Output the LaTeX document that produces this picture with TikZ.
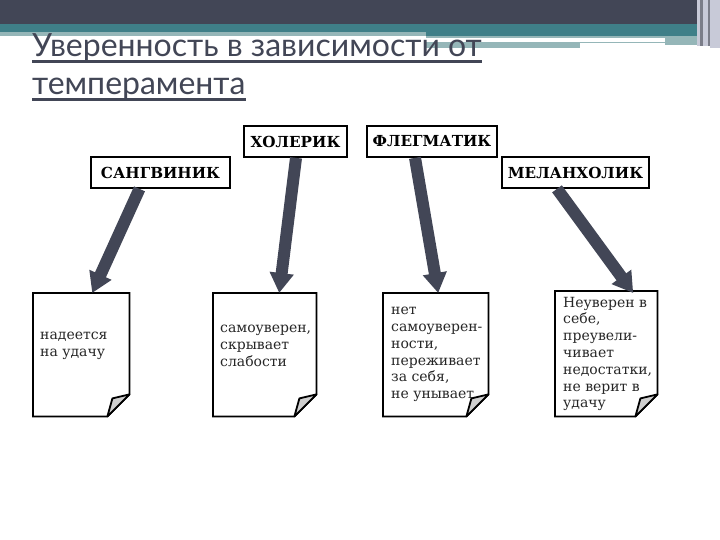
\documentclass[tikz,border=0pt]{standalone}
\usepackage{fontspec}
\setmainfont{DejaVu Serif}
\newfontfamily\titlefont{Lato}
\usetikzlibrary{arrows.meta}
\definecolor{hdark}{HTML}{424656}
\definecolor{hteal}{HTML}{3F7F88}
\definecolor{hlight}{HTML}{95B6B8}
\definecolor{hpale}{HTML}{C8CAD8}
\definecolor{foldgray}{HTML}{CFCFCF}
\tikzset{
  typebox/.style={draw=black,line width=1.7pt,fill=white,inner sep=0pt,font=\fontsize{15.2}{17}\selectfont\bfseries},
  doctext/.style={anchor=west,align=left,inner sep=0pt,font=\fontsize{14}{16.8}\selectfont,text=black!85},
  docbody/.style={draw=none,inner sep=0pt},
  bigarrow/.style={draw=hdark,line width=12pt,-{Triangle[length=20pt,width=23pt]}},
  titletext/.style={anchor=base west,inner sep=0pt,text=hdark,font=\titlefont\fontsize{32}{38}\selectfont},
  titlerule/.style={draw=hdark,line width=2.2pt},
}
\newcommand{\docshape}[5]{% name, x-left, y-top, width, height
  \node[docbody,minimum width=#4pt,minimum height=#5pt,anchor=north west] (#1) at (#2,#3) {};
  \draw[line width=1.8pt,fill=white,line join=miter] (#1.north west) -- (#1.north east) -- ([yshift=22pt]#1.south east) -- ([xshift=-22pt]#1.south east) -- (#1.south west) -- cycle;
}
\newcommand{\docfold}[1]{%
  \draw[line width=1.8pt,fill=foldgray,line join=round] ([yshift=22pt]#1.south east) -- ([xshift=-17pt,yshift=18pt]#1.south east) -- ([xshift=-22pt]#1.south east) -- cycle;
}
\begin{document}
\begin{tikzpicture}[x=1pt,y=-1pt]
\useasboundingbox (0,0) rectangle (720,540);
\fill[white] (0,0) rectangle (720,540);
% header bands
\fill[hdark] (0,0) rectangle (720,24);
\fill[hteal] (0,24) rectangle (720,36);
\fill[hlight] (0,32) rectangle (426,36);
\fill[hlight] (426,36) rectangle (720,38);
\fill[hlight] (426,42) rectangle (580,48);
\fill[hlight] (580,42) rectangle (665,43.5);
\fill[hlight] (665,36) rectangle (700,45);
\fill[hpale] (697,0) rectangle (700,46);
\fill[hdark!70] (700,0) rectangle (703,46);
\fill[hpale] (703,0) rectangle (708,46);
\fill[hdark!70] (708,0) rectangle (710,46);
\fill[hpale] (710,0) rectangle (720,48);
% title
\node[titletext] (t1) at (32,57) {Уверенность в зависимости от};
\node[titletext] (t2) at (32,95) {темперамента};
\draw[titlerule] ([yshift=-4.5pt]t1.base west) -- ([yshift=-4.5pt]t1.base east);
\draw[titlerule] ([yshift=-4.5pt]t2.base west) -- ([yshift=-4.5pt]t2.base east);
% type boxes
\node[typebox,minimum width=103pt,minimum height=31pt] (chol) at (295.5,141.5) {ХОЛЕРИК};
\node[typebox,minimum width=130pt,minimum height=31pt] (phleg) at (432,141.5) {ФЛЕГМАТИК};
\node[typebox,minimum width=139pt,minimum height=31pt] (sang) at (160.5,172.5) {САНГВИНИК\hspace{6pt}};
\node[typebox,minimum width=147pt,minimum height=31pt] (mel) at (575.5,172.5) {МЕЛАНХОЛИК};
% documents
\docshape{d1}{33}{293}{96}{123}
\docshape{d2}{213}{293}{103}{123}
\docshape{d3}{383}{293}{105}{123}
\docshape{d4}{555}{291}{102}{125}
% arrows
\draw[bigarrow] ([xshift=-21pt]sang.south) -- ([xshift=11pt]d1.north);
\draw[bigarrow] ([xshift=0.5pt]chol.south) -- ([xshift=14.5pt]d2.north);
\draw[bigarrow] ([xshift=-17pt]phleg.south) -- ([xshift=2.5pt]d3.north);
\draw[bigarrow] ([xshift=-18.5pt]mel.south) -- ([xshift=27pt,yshift=-2pt]d4.north);
% document texts
\node[doctext] (l1) at (40,345.5) {надеется\\на удачу};
\node[doctext] (l2) at (220,346) {самоуверен,\\скрывает\\слабости};
\node[doctext] (l3) at (391,354.5) {нет\\самоуверен-\\ности,\\переживает\\за себя,\\не унывает};
\node[doctext] (l4) at (563,354) {Неуверен в\\себе,\\преувели-\\чивает\\недостатки,\\не верит в\\удачу};
% folds
\docfold{d1}
\docfold{d2}
\docfold{d3}
\docfold{d4}
\end{tikzpicture}
\end{document}
